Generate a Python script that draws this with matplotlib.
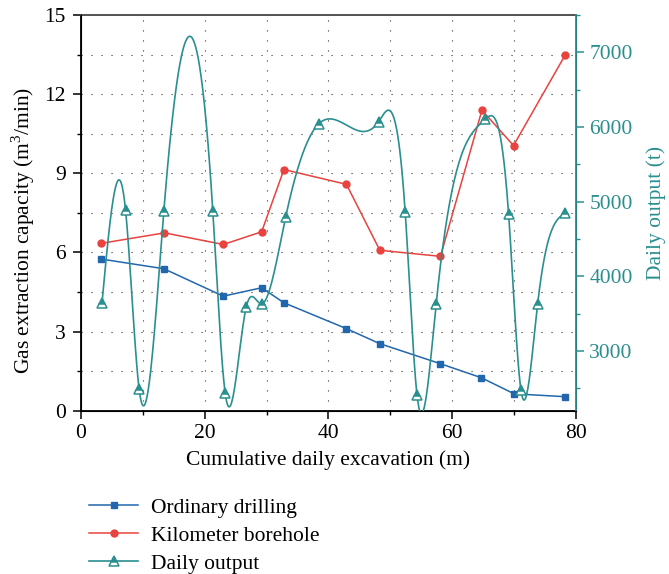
import numpy as np
import matplotlib.pyplot as plt
from matplotlib.ticker import MultipleLocator

plt.rcParams['font.family'] = ['Liberation Serif', 'DejaVu Serif']
plt.rcParams['mathtext.fontset'] = 'custom'
plt.rcParams['mathtext.rm'] = 'Liberation Serif'

# Ordinary drilling (left axis)
x_ord = [3.2, 13.4, 23.0, 29.2, 32.8, 42.9, 48.3, 58.1, 64.7, 70.0, 78.3]
y_ord = [5.75, 5.38, 4.34, 4.66, 4.09, 3.11, 2.54, 1.78, 1.25, 0.64, 0.53]

# Kilometer borehole (left axis)
x_km = [3.2, 13.5, 23.0, 29.2, 32.8, 42.9, 48.3, 58.1, 64.8, 69.9, 78.3]
y_km = [6.34, 6.74, 6.30, 6.78, 9.14, 8.58, 6.08, 5.85, 11.39, 10.05, 13.5]

# Daily output (right axis)
x_day = [3.4, 7.2, 9.4, 13.4, 21.3, 23.3, 26.7, 29.2, 33.1, 38.4, 48.1,
         52.4, 54.3, 57.4, 65.3, 69.1, 71.1, 73.8, 78.2]
y_day = [3640, 4890, 2490, 4880, 4880, 2440, 3585, 3630, 4800, 6040, 6070,
         4855, 2415, 3630, 6100, 4840, 2480, 3630, 4845]

blue = '#2267ad'
red = '#e8433e'
teal = '#2a8f8f'


def natural_spline(x, y, n=800):
    # smooth line through the points, drawn like Origin's spline connector
    x = np.asarray(x, float)
    y = np.asarray(y, float)
    k = len(x)
    h = np.diff(x)
    A = np.zeros((k, k))
    b = np.zeros(k)
    A[0, 0] = A[-1, -1] = 1
    for i in range(1, k - 1):
        A[i, i - 1] = h[i - 1]
        A[i, i] = 2 * (h[i - 1] + h[i])
        A[i, i + 1] = h[i]
        b[i] = 3 * ((y[i + 1] - y[i]) / h[i] - (y[i] - y[i - 1]) / h[i - 1])
    c = np.linalg.solve(A, b)
    xs = np.linspace(x[0], x[-1], n)
    idx = np.clip(np.searchsorted(x, xs) - 1, 0, k - 2)
    dx = xs - x[idx]
    bb = (y[1:] - y[:-1]) / h - h * (2 * c[:-1] + c[1:]) / 3
    dd = (c[1:] - c[:-1]) / (3 * h)
    ys = y[idx] + bb[idx] * dx + c[idx] * dx ** 2 + dd[idx] * dx ** 3
    return xs, ys


fig = plt.figure(figsize=(6.69, 5.74), dpi=100)
ax = fig.add_axes([0.121, 0.2845, 0.740, 0.6895])
ax2 = ax.twinx()

l1, = ax.plot(x_ord, y_ord, '-s', color=blue, ms=4, lw=1.1, label='Ordinary drilling', zorder=3)
l2, = ax.plot(x_km, y_km, '-o', color=red, ms=5, lw=1.1, label='Kilometer borehole', zorder=3)

xs, ys = natural_spline(x_day, y_day)
ax2.plot(xs, ys, color=teal, lw=1.2)
ax2.plot(x_day, y_day, '^', color=teal, ms=6.5, mfc=teal, mec=teal, fillstyle='top',
         markerfacecoloralt='white', mew=1.1)
l3, = ax2.plot([], [], '-^', color=teal, ms=6.5, lw=1.2, fillstyle='top',
               markerfacecoloralt='white', mew=1.1, label='Daily output')

ax.set_xlim(0, 80)
ax.set_ylim(0, 15)
ax2.set_ylim(2200, 7500)

ax.xaxis.set_major_locator(MultipleLocator(20))
ax.xaxis.set_minor_locator(MultipleLocator(10))
ax.yaxis.set_major_locator(MultipleLocator(3))
ax.yaxis.set_minor_locator(MultipleLocator(1.5))
ax2.yaxis.set_major_locator(MultipleLocator(1000))
ax2.yaxis.set_minor_locator(MultipleLocator(500))

for gx in range(10, 80, 10):
    ax.axvline(gx, color='#333333', lw=0.8, ls=(0, (1, 8)), zorder=0)
for gy in np.arange(1.5, 15, 1.5):
    ax.axhline(gy, color='#333333', lw=0.8, ls=(0, (1, 8)), zorder=0)

ax.tick_params(axis='both', which='major', direction='out', length=6, width=1.1, labelsize=15.5)
ax.tick_params(axis='both', which='minor', direction='out', length=3, width=1)
ax.tick_params(axis='y', pad=5)
ax2.tick_params(axis='y', which='major', direction='out', length=6, width=1.1,
                colors=teal, labelsize=15.5)
ax2.tick_params(axis='y', which='minor', direction='out', length=3, width=1, colors=teal)

for s in ['left', 'bottom', 'top']:
    ax.spines[s].set_linewidth(1.3)
ax.spines['top'].set_color('#444444')
ax2.spines['right'].set_color(teal)
ax2.spines['right'].set_linewidth(1.3)
ax2.spines['top'].set_visible(False)

ax.set_xlabel('Cumulative daily excavation (m)', fontsize=15.5, labelpad=5)
ax.set_ylabel('Gas extraction capacity (m$^3$/min)', fontsize=15.5)
ax.yaxis.set_label_coords(-0.089, 0.456)
ax2.set_ylabel('Daily output (t)', fontsize=15.5, color=teal, labelpad=10)

fig.legend(handles=[l1, l2, l3], loc='upper left', bbox_to_anchor=(0.12, 0.148),
           frameon=False, fontsize=15.5, handlelength=2.3, handletextpad=0.6,
           labelspacing=0.37, borderaxespad=0)

fig.savefig('out.png', dpi=100)
